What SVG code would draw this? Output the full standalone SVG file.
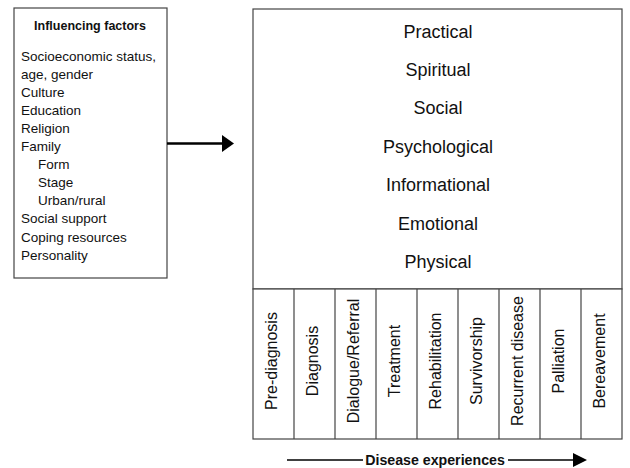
<svg xmlns="http://www.w3.org/2000/svg" width="630" height="468" viewBox="0 0 630 468">
<style>
.box{fill:#fff;stroke:#444;stroke-width:1.2}
.t{font-family:"Liberation Sans",Arial,sans-serif;fill:#111}
.item{font-size:13.5px}
.dim{font-size:18px;text-anchor:middle}
.stage{font-size:16px;text-anchor:middle}
.bold{font-weight:bold}
</style>
<defs>
<marker id="ah1" viewBox="0 0 12 17" refX="0" refY="8.5" markerWidth="12" markerHeight="17" markerUnits="userSpaceOnUse" orient="auto"><path d="M0,0 L12,8.5 L0,17 Z" fill="#000"/></marker>
<marker id="ah2" viewBox="0 0 14 14" refX="0" refY="7" markerWidth="14" markerHeight="14" markerUnits="userSpaceOnUse" orient="auto"><path d="M0,0 L14,7 L0,14 Z" fill="#000"/></marker>
</defs>
<rect width="630" height="468" fill="#fff"/>
<g id="factors">
<rect class="box" x="14" y="8" width="153" height="270"/>
<text class="t bold" x="90" y="29.5" font-size="12.5" text-anchor="middle">Influencing factors</text>
<text class="t item" x="21" y="60.5">Socioeconomic status,</text>
<text class="t item" x="21" y="78.6">age, gender</text>
<text class="t item" x="21" y="96.7">Culture</text>
<text class="t item" x="21" y="114.8">Education</text>
<text class="t item" x="21" y="132.9">Religion</text>
<text class="t item" x="21" y="151">Family</text>
<text class="t item" x="38" y="169.1">Form</text>
<text class="t item" x="38" y="187.2">Stage</text>
<text class="t item" x="38" y="205.3">Urban/rural</text>
<text class="t item" x="21" y="223.4">Social support</text>
<text class="t item" x="21" y="241.5">Coping resources</text>
<text class="t item" x="21" y="259.6">Personality</text>
</g>
<g id="needs">
<rect class="box" x="253" y="9" width="369" height="280"/>
<text class="t dim" x="438" y="37.5">Practical</text>
<text class="t dim" x="438" y="75.9">Spiritual</text>
<text class="t dim" x="438" y="114.3">Social</text>
<text class="t dim" x="438" y="152.7">Psychological</text>
<text class="t dim" x="438" y="191.1">Informational</text>
<text class="t dim" x="438" y="229.5">Emotional</text>
<text class="t dim" x="438" y="267.9">Physical</text>
</g>
<g id="stages">
<rect class="box" x="253" y="289" width="369" height="150"/>
<g stroke="#444" stroke-width="1.2">
<line x1="294" y1="289" x2="294" y2="439"/>
<line x1="335" y1="289" x2="335" y2="439"/>
<line x1="376" y1="289" x2="376" y2="439"/>
<line x1="417" y1="289" x2="417" y2="439"/>
<line x1="458" y1="289" x2="458" y2="439"/>
<line x1="499" y1="289" x2="499" y2="439"/>
<line x1="540" y1="289" x2="540" y2="439"/>
<line x1="581" y1="289" x2="581" y2="439"/>
</g>
<text class="t stage" transform="translate(276.5,361) rotate(-90)">Pre-diagnosis</text>
<text class="t stage" transform="translate(317.5,361) rotate(-90)">Diagnosis</text>
<text class="t stage" transform="translate(358.5,361) rotate(-90)">Dialogue/Referral</text>
<text class="t stage" transform="translate(399.5,361) rotate(-90)">Treatment</text>
<text class="t stage" transform="translate(440.5,361) rotate(-90)">Rehabilitation</text>
<text class="t stage" transform="translate(481.5,361) rotate(-90)">Survivorship</text>
<text class="t stage" transform="translate(522.5,361) rotate(-90)">Recurrent disease</text>
<text class="t stage" transform="translate(563.5,361) rotate(-90)">Palliation</text>
<text class="t stage" transform="translate(604.5,361) rotate(-90)">Bereavement</text>
</g>
<g id="connectors">
<line x1="167" y1="143.5" x2="222" y2="143.5" stroke="#000" stroke-width="2.6" marker-end="url(#ah1)"/>
<line x1="287" y1="460" x2="363" y2="460" stroke="#000" stroke-width="1.6"/>
<line x1="508" y1="460" x2="573" y2="460" stroke="#000" stroke-width="1.6" marker-end="url(#ah2)"/>
</g>
<text class="t bold" x="435" y="464.5" font-size="14.2" text-anchor="middle">Disease experiences</text>
</svg>
